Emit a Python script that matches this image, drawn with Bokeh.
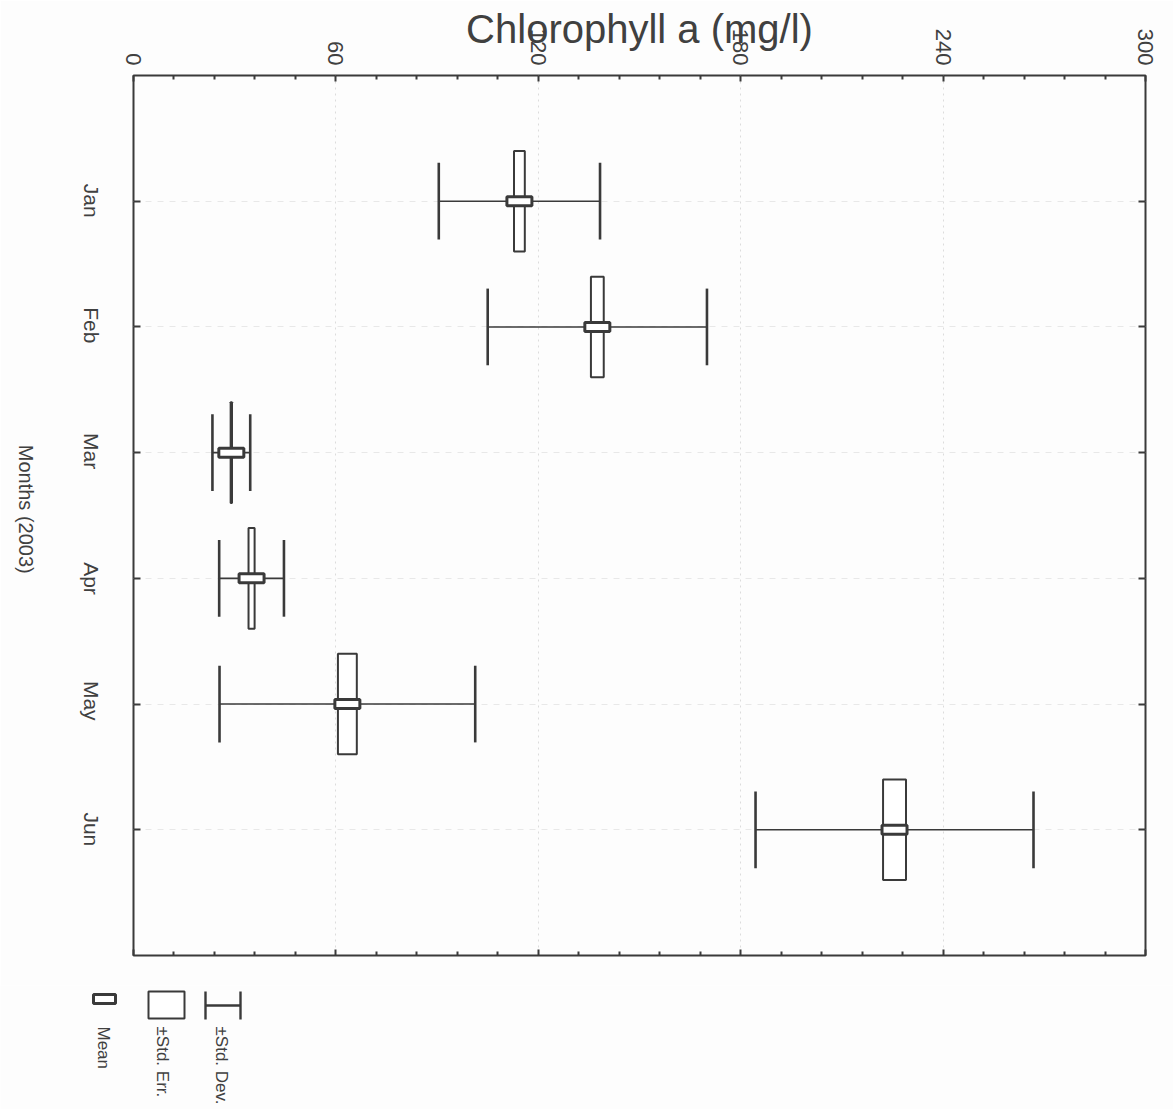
import math
from bokeh.plotting import figure
from bokeh.models import Range1d, FixedTicker, LinearAxis
from bokeh.embed import file_html
from bokeh.resources import INLINE

# ---------------- data ----------------
months = ["Jan", "Feb", "Mar", "Apr", "May", "Jun"]
mean = [114.4, 137.5, 29.0, 35.0, 63.4, 225.6]
std_dev = [23.9, 32.5, 5.6, 9.6, 37.9, 41.2]
std_err = [1.6, 1.9, 0.2, 0.9, 2.8, 3.4]
value_ticks = [0, 60, 120, 180, 240, 300]
minor_step = 12

title_text = "Chlorophyll a (mg/l)"
cat_title = "Months (2003)"
legend_texts = ["\u00b1Std. Dev.", "\u00b1Std. Err.", "Mean"]

# ---------------- derived ----------------
pos = [i + 1 for i in range(len(months))]
sd_lo = [m - s for m, s in zip(mean, std_dev)]
sd_hi = [m + s for m, s in zip(mean, std_dev)]
se_lo = [m - s for m, s in zip(mean, std_err)]
se_hi = [m + s for m, s in zip(mean, std_err)]
minor_ticks = [v for v in range(0, 301, minor_step) if v not in value_ticks]

FONT = "Liberation Sans"
INK = "#3a3a3a"
TXT = "#404040"
BG = "#fdfdfd"

FRAME_H = 880.0
CAT_SPAN = 7.0
px = CAT_SPAN / FRAME_H      # category units per pixel

p = figure(width=1173, height=985, x_range=Range1d(0, 300), y_range=Range1d(CAT_SPAN, 0),
           x_axis_location="above", output_backend="svg", toolbar_location=None,
           min_border_left=133, min_border_right=28, min_border_top=75, min_border_bottom=30,
           background_fill_color=BG, border_fill_color=BG)
p.outline_line_color = INK
p.outline_line_width = 2
p.outline_line_alpha = 1

# rotated left-side labels are end-anchored by Bokeh; shift their ranges by half a label length
d_lab = 16.5 * px
d_tit = 64.5 * px
p.extra_y_ranges = {"lab": Range1d(CAT_SPAN - d_lab, -d_lab),
                    "tit": Range1d(CAT_SPAN - d_tit, -d_tit)}

# value axis (above) with the chart title as its axis label
xa = p.xaxis[0]
xa.ticker = FixedTicker(ticks=value_ticks, minor_ticks=minor_ticks)
xa.major_label_orientation = -math.pi / 2
xa.major_label_text_font = FONT
xa.major_label_text_font_size = "22px"
xa.major_label_text_color = TXT
xa.major_label_standoff = 10
xa.major_tick_in = 6
xa.major_tick_out = 0
xa.minor_tick_in = 4
xa.minor_tick_out = 0
xa.major_tick_line_color = INK
xa.minor_tick_line_color = INK
xa.major_tick_line_width = 2
xa.minor_tick_line_width = 2
xa.axis_line_color = None
xa.axis_label = title_text
xa.axis_label_text_font = FONT
xa.axis_label_text_font_size = "40px"
xa.axis_label_text_font_style = "normal"
xa.axis_label_text_color = TXT
xa.axis_label_standoff = -25

# category ticks (left, no labels)
ya = p.yaxis[0]
ya.ticker = FixedTicker(ticks=pos, minor_ticks=[])
ya.major_label_text_color = None
ya.major_label_standoff = 0
ya.major_tick_in = 7
ya.major_tick_out = 0
ya.major_tick_line_color = INK
ya.major_tick_line_width = 2
ya.axis_line_color = None

# category labels
la = LinearAxis(y_range_name="lab", ticker=FixedTicker(ticks=pos, minor_ticks=[]),
                major_label_overrides={k: v for k, v in zip(pos, months)},
                major_label_orientation=-math.pi / 2, major_label_text_font=FONT,
                major_label_text_font_size="21px", major_label_text_color=TXT,
                major_label_standoff=42, major_tick_in=0, major_tick_out=0,
                major_tick_line_color=None, axis_line_color=None)
p.add_layout(la, "left")

# category axis title
title_pos = 3.45
ta = LinearAxis(y_range_name="tit", ticker=FixedTicker(ticks=[title_pos], minor_ticks=[]),
                major_label_overrides={title_pos: cat_title},
                major_label_orientation=-math.pi / 2, major_label_text_font=FONT,
                major_label_text_font_size="20px", major_label_text_color=TXT,
                major_label_standoff=40, major_tick_in=0, major_tick_out=0,
                major_tick_line_color=None, axis_line_color=None)
p.add_layout(ta, "left")

# mirrored tick axes (no labels)
bx = LinearAxis(ticker=FixedTicker(ticks=value_ticks, minor_ticks=minor_ticks),
                major_label_text_color=None, major_tick_in=6, major_tick_out=0,
                minor_tick_in=4, minor_tick_out=0, major_tick_line_color=INK,
                minor_tick_line_color=INK, major_tick_line_width=2, minor_tick_line_width=2,
                axis_line_color=None)
p.add_layout(bx, "below")
ry = LinearAxis(ticker=FixedTicker(ticks=pos, minor_ticks=[]),
                major_label_text_color=None, major_tick_in=7, major_tick_out=0,
                major_tick_line_color=INK, major_tick_line_width=2, axis_line_color=None)
p.add_layout(ry, "right")

p.xgrid.ticker = FixedTicker(ticks=value_ticks[1:-1])
p.xgrid.grid_line_color = "#dcdcdc"
p.xgrid.grid_line_dash = "2 4"
p.ygrid.grid_line_color = "#e8e8e8"
p.ygrid.grid_line_dash = "6 6"

# SD whiskers
p.segment(x0=sd_lo, y0=pos, x1=sd_hi, y1=pos, line_color=INK, line_width=1.6)
cap = 0.305
p.segment(x0=sd_lo, y0=[c - cap for c in pos], x1=sd_lo, y1=[c + cap for c in pos],
          line_color=INK, line_width=2.6)
p.segment(x0=sd_hi, y0=[c - cap for c in pos], x1=sd_hi, y1=[c + cap for c in pos],
          line_color=INK, line_width=2.6)
# SE boxes
box = 0.4
p.quad(left=se_lo, right=se_hi, top=[c - box for c in pos], bottom=[c + box for c in pos],
       fill_color="white", line_color=INK, line_width=2)
# Mean markers
p.rect(x=mean, y=pos, width=25, height=9, width_units="screen", height_units="screen",
       fill_color="white", line_color=INK, line_width=3)

# ---------------- legend strip (page pixels, y measured from 985) ----------------
leg = figure(width=1173, height=124, x_range=Range1d(0, 1173), y_range=Range1d(124, 0),
             x_axis_type=None, y_axis_type=None, output_backend="svg", toolbar_location=None,
             min_border=0, background_fill_color=BG, border_fill_color=BG)
leg.outline_line_color = None
leg.grid.visible = False
# Std. Dev. symbol
leg.segment(x0=[205, 240, 205], y0=[6, 6, 20], x1=[205, 240, 240], y1=[34, 34, 20],
            line_color=INK, line_width=2.4)
# Std. Err. symbol
leg.quad(left=[148], right=[184], top=[6], bottom=[33], fill_color="white",
         line_color=INK, line_width=2)
# Mean symbol
leg.quad(left=[93], right=[115], top=[9], bottom=[18], fill_color="white",
         line_color=INK, line_width=3)
leg.text(x=[221, 162, 103], y=[41, 41, 41], text=legend_texts, text_font={"value": FONT},
         text_font_size="17px", text_color=TXT, text_align="left", text_baseline="middle",
         angle=-math.pi / 2)

open("out.html", "w").write(file_html([p, leg], INLINE))
